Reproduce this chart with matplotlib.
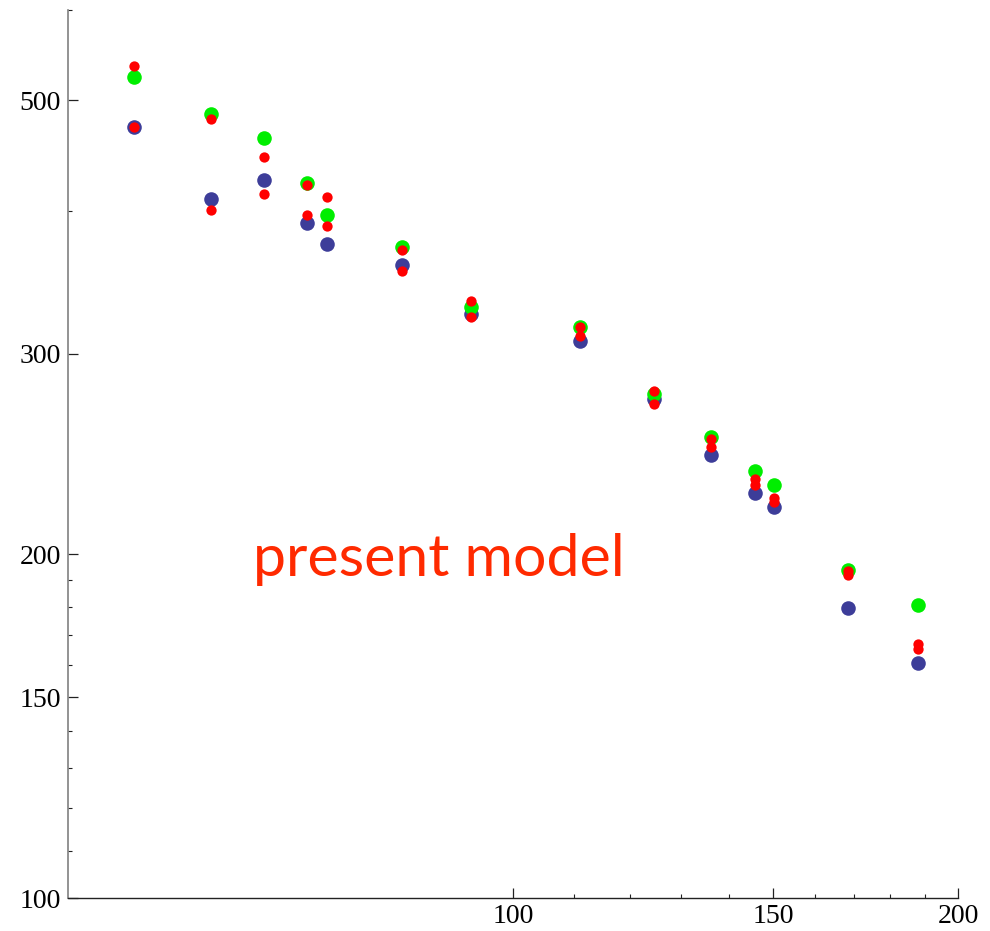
import matplotlib.pyplot as plt
from matplotlib.ticker import FixedLocator, NullFormatter

# mass points (log-log) and the four computed series
x = [55.4, 62.5, 67.9, 72.6, 74.8, 84.1, 93.7, 111.0, 124.6, 136.2, 145.7, 150.1, 168.4, 187.8]
green = [524.1, 486.4, 463.3, 423.2, 396.8, 371.9, 329.6, 316.5, 276.5, 253.6, 236.8, 230.2, 193.9, 180.7]
blue = [473.8, 409.8, 425.8, 390.5, 374.2, 358.7, 325.0, 307.7, 273.7, 244.5, 226.5, 220.3, 179.6, 160.8]
red_hi = [535.8, 481.5, 445.9, 421.6, 411.4, 369.7, 333.5, 316.5, 278.2, 252.6, 233.0, 224.3, 193.6, 166.8]
red_lo = [473.8, 400.8, 413.9, 396.8, 388.1, 354.4, 323.0, 310.8, 271.0, 248.5, 230.2, 222.5, 192.0, 165.4]

x_major = [100, 150, 200]
x_minor = [110, 120, 130, 140, 160, 170, 180, 190]
y_major = [100, 150, 200, 300, 500]
y_minor = [110, 120, 130, 140, 160, 170, 180, 190, 400, 600]

fig = plt.figure(figsize=(9.9, 9.31), dpi=100)
ax = fig.add_axes([68/990, 33/931, 890/990, 888/931])
ax.set_xscale('log')
ax.set_yscale('log')
ax.set_xlim(50, 200)
ax.set_ylim(100, 600)

ax.scatter(x, blue, s=110, color='#3d3d99', zorder=3, linewidths=0)
ax.scatter(x, green, s=110, color='#00ee00', zorder=4, linewidths=0)
ax.scatter(x, red_hi, s=55, color='#ff0000', zorder=5, linewidths=0)
ax.scatter(x, red_lo, s=55, color='#ff0000', zorder=5, linewidths=0)

ax.xaxis.set_major_locator(FixedLocator(x_major))
ax.xaxis.set_minor_locator(FixedLocator(x_minor))
ax.yaxis.set_major_locator(FixedLocator(y_major))
ax.yaxis.set_minor_locator(FixedLocator(y_minor))
ax.set_xticklabels([str(v) for v in x_major])
ax.set_yticklabels([str(v) for v in y_major])
ax.xaxis.set_minor_formatter(NullFormatter())
ax.yaxis.set_minor_formatter(NullFormatter())

for lab in ax.get_xticklabels() + ax.get_yticklabels():
    lab.set_fontfamily('Liberation Serif')
    lab.set_fontsize(20)

ax.tick_params(which='major', direction='in', length=7.5, width=0.9, color='#222222')
ax.tick_params(which='minor', direction='in', length=3, width=0.8, color='#222222')
ax.tick_params(axis='x', pad=4)
ax.tick_params(axis='y', pad=5)

ax.spines['top'].set_visible(False)
ax.spines['right'].set_visible(False)
ax.spines['left'].set_color('#808080')
ax.spines['left'].set_linewidth(1.2)
ax.spines['bottom'].set_color('#222222')
ax.spines['bottom'].set_linewidth(1.0)

fig.text(253/990, 1 - 576/931, 'present model', color='#ff2a00', fontsize=42.5,
         fontfamily='Lato', ha='left', va='baseline')

fig.savefig('out.png', dpi=100)
